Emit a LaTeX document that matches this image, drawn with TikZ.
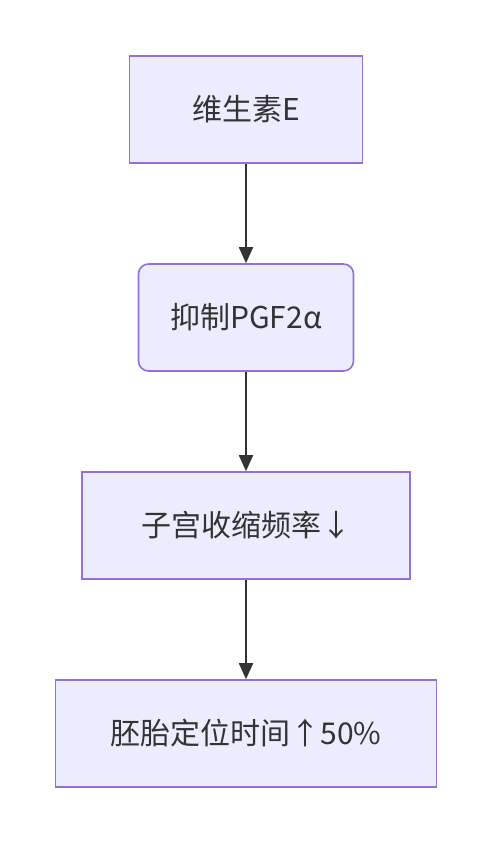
\documentclass[tikz,border=0pt]{standalone}
\usepackage{fontspec}
\setmainfont{Noto Sans CJK SC}
\usetikzlibrary{arrows.meta}
\definecolor{boxfill}{HTML}{ECECFF}
\definecolor{boxline}{HTML}{9370DB}
\definecolor{ink}{HTML}{333333}

\begin{document}
\begin{tikzpicture}[x=1pt,y=-1pt,>={Triangle[width=14pt,length=16pt]},
  box/.style={draw=boxline,fill=boxfill,line width=1.6pt,minimum height=107pt,
    inner sep=0pt,text=ink,font=\fontsize{30}{34}\selectfont},
  flow/.style={->,draw=ink,line width=1.8pt}]
  \useasboundingbox (0,0) rectangle (492,844);
  % steps, top to bottom
  \node[box,minimum width=233pt] (vite) at (246,109.5) {维生素E};
  \node[box,minimum width=215pt,rounded corners=10pt] (pgf) at (246,317.5) {抑制PGF2α};
  \node[box,minimum width=328pt] (uterus) at (246,525.5) {子宫收缩频率↓};
  \node[box,minimum width=381pt] (embryo) at (246,733.5) {胚胎定位时间↑50\%};
  % arrows
  \draw[flow] (vite.south) -- (pgf.north);
  \draw[flow] (pgf.south) -- (uterus.north);
  \draw[flow] (uterus.south) -- (embryo.north);
\end{tikzpicture}
\end{document}
